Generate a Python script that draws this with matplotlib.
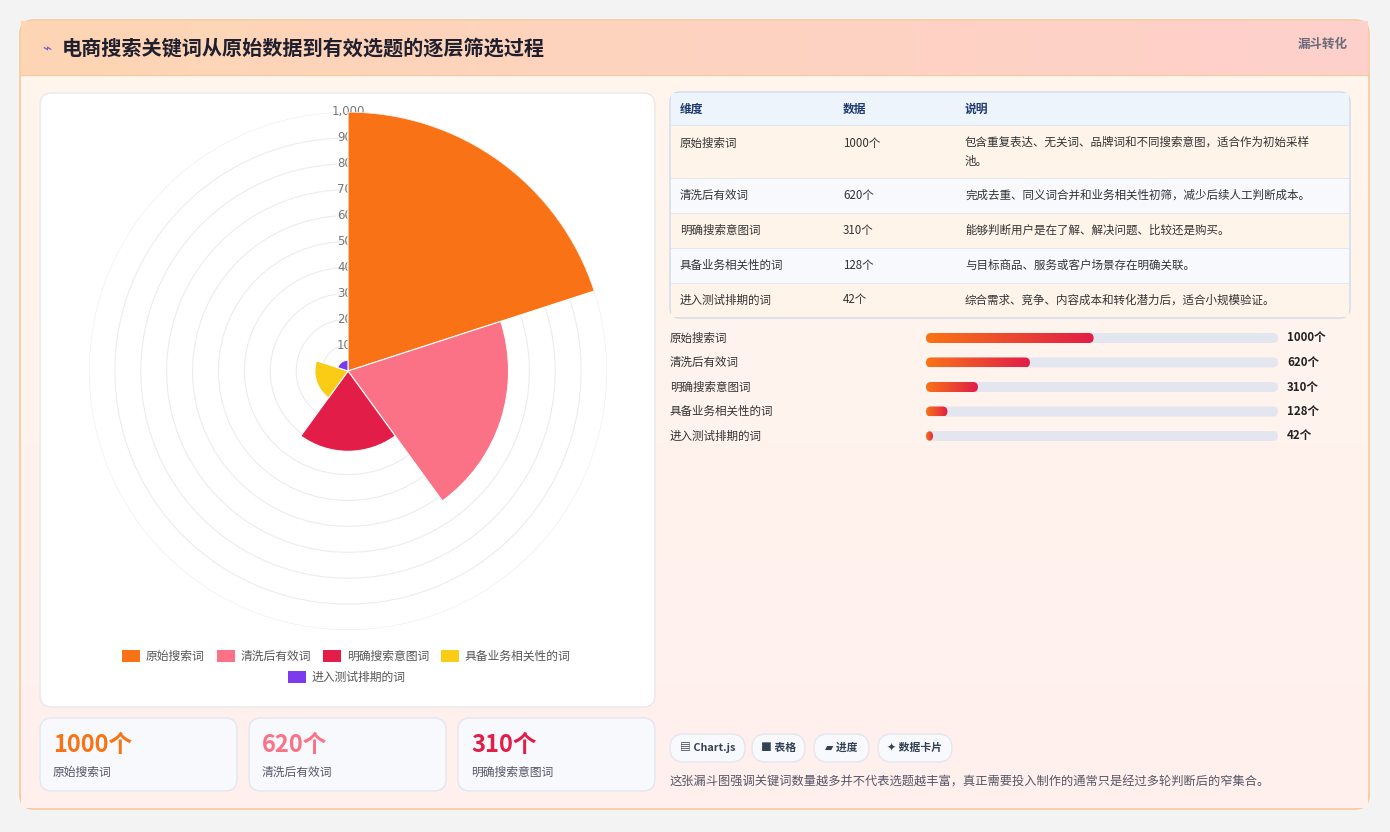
import numpy as np
import matplotlib.pyplot as plt
from matplotlib.patches import FancyBboxPatch, Rectangle
from matplotlib.colors import LinearSegmentedColormap

plt.rcParams['font.family'] = ['Noto Sans CJK SC', 'DejaVu Sans']

stages = ['原始搜索词', '清洗后有效词', '明确搜索意图词', '具备业务相关性的词', '进入测试排期的词']
counts = [1000, 620, 310, 128, 42]
colors = ['#f97316', '#fb7185', '#e11d48', '#facc15', '#7c3aed']
notes = ['包含重复表达、无关词、品牌词和不同搜索意图，适合作为初始采样\n池。',
         '完成去重、同义词合并和业务相关性初筛，减少后续人工判断成本。',
         '能够判断用户是在了解、解决问题、比较还是购买。',
         '与目标商品、服务或客户场景存在明确关联。',
         '综合需求、竞争、内容成本和转化潜力后，适合小规模验证。']
radial_ticks = [100, 200, 300, 400, 500, 600, 700, 800, 900, 1000]

W, H = 1390, 832
fig = plt.figure(figsize=(W / 100, H / 100), dpi=100)
fig.patch.set_facecolor('#f3f3f4')
bg = fig.add_axes([0, 0, 1, 1])
bg.set_xlim(0, W)
bg.set_ylim(H, 0)
bg.axis('off')


def box(x, y, w, h, fc, ec='none', r=10, lw=1, z=1):
    bg.add_patch(FancyBboxPatch((x, y), w, h, boxstyle=f'round,pad=0,rounding_size={r}',
                                fc=fc, ec=ec, lw=lw, zorder=z))


# main card
box(20, 20, 1349, 789, '#fff2ef', ec='#f6c89a', r=14, lw=1.2)
grad = np.linspace(0, 1, 256).reshape(1, -1)
# soft vertical tint of the body
vgrad = np.linspace(0, 1, 256).reshape(-1, 1)
cmv = LinearSegmentedColormap.from_list('v', ['#fff6ec', '#fff0ef'])
bg.imshow(vgrad, extent=(21, 1368, 808, 76), cmap=cmv, aspect='auto', zorder=1.5, origin='upper')
cm = LinearSegmentedColormap.from_list('h', ['#fdd6b4', '#ffd0cc'])
bg.imshow(grad, extent=(21, 1368, 75, 21), cmap=cm, aspect='auto', zorder=2)
bg.plot([21, 1368], [75, 75], color='#f6c89a', lw=0.8, zorder=3)
bg.text(42, 49, '⌁', fontsize=11, color='#6d5bd0', va='center', zorder=4, family=['DejaVu Sans'])
bg.text(62, 49, '电商搜索关键词从原始数据到有效选题的逐层筛选过程', fontsize=14.5,
        fontweight='bold', color='#1f1f2e', va='center', zorder=4)
bg.text(1348, 44, '漏斗转化', fontsize=9, color='#6b6b7b', ha='right', va='center',
        fontweight='bold', zorder=4)

# chart panel
box(40, 93, 615, 614, '#ffffff', ec='#ece7ea', r=12, z=2)

# polar area chart
cx, cy, R = 348, 371, 259
pax = fig.add_axes([(cx - R) / W, (H - cy - R) / H, 2 * R / W, 2 * R / H], projection='polar')
pax.set_facecolor('none')
pax.set_theta_zero_location('N')
pax.set_theta_direction(-1)
n = len(counts)
step = 2 * np.pi / n
thetas = np.arange(n) * step + step / 2
pax.bar(thetas, counts, width=step, color=colors, edgecolor='white', linewidth=0.8, zorder=3)
pax.set_ylim(0, 1000)
pax.set_yticks(radial_ticks)
pax.set_yticklabels([])
pax.set_xticks([])
pax.grid(True, color='#ececec', lw=0.8)
pax.spines['polar'].set_visible(False)
for t in radial_ticks:
    pax.text(0, t, f'{t:,}', ha='center', va='center', fontsize=8.5, color='#777777', zorder=2,
             family=['DejaVu Sans'])

# legend
leg_rows = [[0, 1, 2, 3], [4]]
leg_x = [[122, 217, 323, 441], [288]]
for row, xs, yy in zip(leg_rows, leg_x, [656, 677]):
    for i, x in zip(row, xs):
        bg.add_patch(Rectangle((x, yy - 6), 18, 12, fc=colors[i], zorder=4))
        bg.text(x + 24, yy, stages[i], fontsize=8.5, color='#555555', va='center', zorder=4,
                fontweight='medium')

# stat cards
for k, x in enumerate([40, 249, 458]):
    box(x, 718, 197, 73, '#f8f9fd', ec='#e3e6ef', r=12, z=2)
    bg.text(x + 13, 745, f'{counts[k]}个', fontsize=17, fontweight='bold', color=colors[k],
            va='center', zorder=4)
    bg.text(x + 13, 772, stages[k], fontsize=8.5, color='#555566', va='center', zorder=4)

# table
box(670, 92, 680, 226, '#ffffff', ec='#cfd8e8', r=10, z=2)
bg.add_patch(Rectangle((671, 93), 678, 32, fc='#eef4fc', zorder=2))
for x, t in zip([680, 843, 965], ['维度', '数据', '说明']):
    bg.text(x, 109, t, fontsize=8.5, fontweight='bold', color='#1e3a6e', va='center', zorder=4)
row_y = [125, 178, 213, 248, 283, 317]
for i in range(n):
    y0, y1 = row_y[i], row_y[i + 1]
    bg.add_patch(Rectangle((671, y0), 678, y1 - y0, fc='#fff4ea' if i % 2 == 0 else '#f7f9fc',
                           ec='none', zorder=2))
    bg.plot([671, 1349], [y0, y0], color='#e3e6ee', lw=0.7, zorder=3)
    ty = y0 + 18 if i == 0 else (y0 + y1) / 2
    bg.text(680, ty, stages[i], fontsize=8.3, color='#333333', va='center', zorder=4, fontweight='medium')
    bg.text(843, ty, f'{counts[i]}个', fontsize=8.3, color='#333333', va='center', zorder=4, fontweight='medium')
    bg.text(965, y0 + 11 if i == 0 else ty, notes[i], fontsize=8.3, color='#333333',
            va='top' if i == 0 else 'center', linespacing=1.6, zorder=4, fontweight='medium')

# progress bars
total = sum(counts)
track_x, track_w = 926, 352
cmb = LinearSegmentedColormap.from_list('b', ['#f97316', '#e11d48'])
for i in range(n):
    y = 338 + i * 24.5
    bg.text(670, y, stages[i], fontsize=8.3, color='#333333', va='center', zorder=4, fontweight='medium')
    box(track_x, y - 5, track_w, 10, '#e3e6ee', r=5, z=2)
    w = track_w * counts[i] / total
    im = bg.imshow(grad, extent=(track_x, track_x + w, y + 5, y - 5), cmap=cmb, aspect='auto', zorder=3)
    clip = FancyBboxPatch((track_x, y - 5), w, 10, boxstyle='round,pad=0,rounding_size=5',
                          fc='none', ec='none', transform=bg.transData)
    im.set_clip_path(clip)
    bg.text(1287, y, f'{counts[i]}个', fontsize=8.3, fontweight='bold', color='#222222',
            va='center', zorder=4)

# tags
for x, w, t in [(670, 75, '▤ Chart.js'), (752, 53, '■ 表格'), (814, 55, '▰ 进度'), (878, 74, '✦ 数据卡片')]:
    box(x, 734, w, 28, '#f8f9fc', ec='#e3e6ee', r=14, z=2)
    bg.text(x + w / 2, 748, t, fontsize=7.8, fontweight='bold', color='#334155', ha='center',
            va='center', zorder=4)
bg.text(670, 782, '这张漏斗图强调关键词数量越多并不代表选题越丰富，真正需要投入制作的通常只是经过多轮判断后的窄集合。',
        fontsize=8.8, color='#555566', va='center', zorder=4, fontweight='medium')

fig.savefig('out.png', dpi=100, facecolor=fig.get_facecolor())
